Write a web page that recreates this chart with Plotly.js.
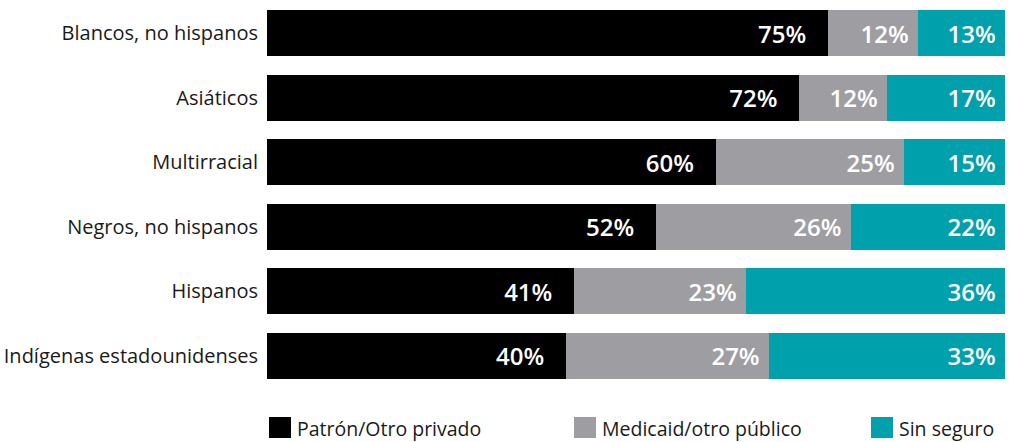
<!DOCTYPE html>
<html>
<head>
<meta charset="utf-8">
<script src="https://cdn.plot.ly/plotly-3.0.1.min.js"></script>
<style>html,body{margin:0;padding:0;background:#fff;}#chart{width:1013px;height:442px;}</style>
</head>
<body>
<div id="chart"></div>
<script>
const categories = ["Blancos, no hispanos", "Asiáticos", "Multirracial", "Negros, no hispanos", "Hispanos", "Indígenas estadounidenses"];
const seriesNames = ["Patrón/Otro privado", "Medicaid/otro público", "Sin seguro"];
// bar lengths (percent of total)
const privado = [76.0, 72.1, 60.8, 52.7, 41.6, 40.5];
const publico = [12.2, 11.9, 25.5, 26.4, 23.3, 27.5];
const sinSeguro = [11.8, 16.0, 13.7, 20.9, 35.1, 32.0];
// printed labels
const privadoLabels = ["75%", "72%", "60%", "52%", "41%", "40%"];
const publicoLabels = ["12%", "12%", "25%", "26%", "23%", "27%"];
const sinSeguroLabels = ["13%", "17%", "15%", "22%", "36%", "33%"];
const colors = ["#000000", "#9e9ea2", "#00a0ad"];

const W = 1013, H = 442;
const M = {l: 267, r: 8, t: 1, b: 54};
const pw = W - M.l - M.r, ph = H - M.t - M.b;
const px2x = px => (px - M.l) / pw;
const px2y = py => (H - M.b - py) / ph;

const NB = "\u00a0";
function mk(vals, labels, name, color, pad) {
  return {
    type: "bar", orientation: "h", y: categories, x: vals, name: name,
    marker: {color: color, line: {width: 0}},
    text: labels.map(l => l + pad),
    textposition: "inside", insidetextanchor: "end", textangle: 0,
    constraintext: "none",
    insidetextfont: {family: "Open Sans", size: 24, color: "#ffffff", weight: 600},
    hoverinfo: "skip", cliponaxis: false, showlegend: false
  };
}
const data = [
  mk(privado, privadoLabels, seriesNames[0], colors[0], NB + NB + NB),
  mk(publico, publicoLabels, seriesNames[1], colors[1], NB),
  mk(sinSeguro, sinSeguroLabels, seriesNames[2], colors[2], NB)
];

// custom legend (square + label), positions in pixels converted to paper
const legendX = [269, 574, 871];
const shapes = [], annotations = [];
seriesNames.forEach((n, i) => {
  shapes.push({type: "rect", xref: "paper", yref: "paper",
    x0: px2x(legendX[i]), x1: px2x(legendX[i] + 22), y0: px2y(417), y1: px2y(438),
    fillcolor: colors[i], line: {width: 0}});
  annotations.push({xref: "paper", yref: "paper", x: px2x(legendX[i] + 26), y: px2y(428),
    xanchor: "left", yanchor: "middle", text: n, showarrow: false,
    font: {family: "Open Sans", size: 19.5, color: "#1a1a1a"}});
});

const layout = {
  width: W, height: H,
  barmode: "stack", bargap: 0.28,
  margin: {l: M.l, r: M.r, t: M.t, b: M.b, pad: 0},
  paper_bgcolor: "#ffffff", plot_bgcolor: "#ffffff",
  font: {family: "Open Sans", color: "#1a1a1a", size: 20},
  showlegend: false,
  shapes: shapes, annotations: annotations,
  xaxis: {range: [0, 100], visible: false, fixedrange: true},
  yaxis: {autorange: "reversed", showgrid: false, zeroline: false, showline: false, ticks: "",
    tickfont: {family: "Open Sans", size: 20, color: "#1a1a1a"}, ticklabelstandoff: 8, fixedrange: true}
};
Plotly.newPlot("chart", data, layout, {displayModeBar: false, staticPlot: true});
</script>
</body>
</html>
